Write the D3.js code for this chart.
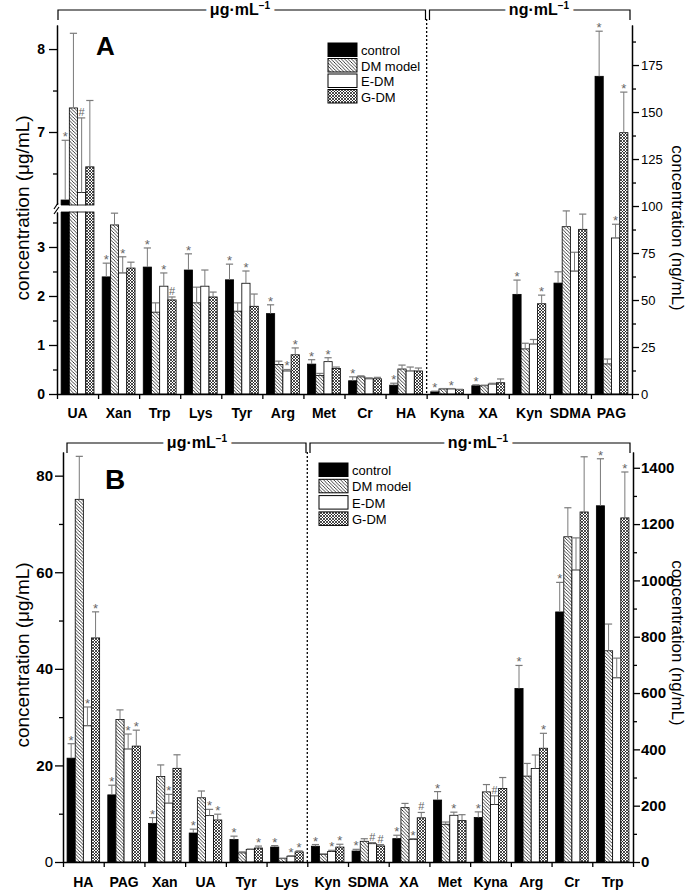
<!DOCTYPE html>
<html><head><meta charset="utf-8">
<script src="https://cdn.jsdelivr.net/npm/d3@7"></script>
<style>body{margin:0;background:#fff}svg{display:block;font-family:Arial,"Liberation Sans",sans-serif}</style>
</head><body><svg id="c" width="697" height="893"></svg>
<script>
const seriesNames = ["control","DM model","E-DM","G-DM"];

// ---------- Panel A ----------
const catsA = ["UA","Xan","Trp","Lys","Tyr","Arg","Met","Cr","HA","Kyna","XA","Kyn","SDMA","PAG"];
const controlA = [6.18, 2.39, 2.59, 2.53, 2.33, 1.64, 0.61, 0.27, 0.18, 1.2, 4.4, 53, 59, 169];
const controlSdA = [0.72, 0.28, 0.39, 0.33, 0.32, 0.18, 0.09, 0.08, 0.04, 0.3, 0.5, 7.6, 6, 24];
const dmA = [7.29, 3.45, 1.67, 1.86, 1.69, 0.60, 0.38, 0.35, 0.51, 2.7, 4.4, 24, 89, 16];
const dmSdA = [0.9, 0.24, 0.19, 0.32, 0.17, 0.07, 0.04, 0.02, 0.08, 0.2, 0.3, 3, 8.4, 2.6];
const edmA = [6.27, 2.47, 2.2, 2.2, 2.26, 0.47, 0.66, 0.31, 0.47, 2.7, 5.3, 26.6, 65.4, 83];
const edmSdA = [0.9, 0.33, 0.27, 0.33, 0.25, 0.03, 0.08, 0.02, 0.08, 0.2, 0.4, 2.4, 10, 7.3];
const gdmA = [6.58, 2.57, 1.92, 1.98, 1.79, 0.80, 0.52, 0.31, 0.47, 2.3, 6.0, 48, 87.6, 139];
const gdmSdA = [0.8, 0.12, 0.06, 0.1, 0.25, 0.14, 0.03, 0.03, 0.06, 0.2, 2, 4.6, 8.1, 21.6];
const markCtrlA = ["*","*","*","*","*","*","*","*","*","*","*","*","","*"];
const markDmA   = ["","","","","","","","","","","","","",""];
const markEdmA  = ["#","*","*","","*","*","*","","","*","","","","*"];
const markGdmA  = ["","","#","","","*","","","","","","*","","*"];
const leftTicksA_low = [0,1,2,3], leftMinorA_low = [0.5,1.5,2.5,3.5];
const leftTicksA_up = [7,8], leftMinorA_up = [6.5,7.5];
const rightTicksA = [0,25,50,75,100,125,150,175];
const rightMinorA = [12.5,37.5,62.5,87.5,112.5,137.5,162.5,187.5];

// ---------- Panel B ----------
const catsB = ["HA","PAG","Xan","UA","Tyr","Lys","Kyn","SDMA","XA","Met","Kyna","Arg","Cr","Trp"];
const controlB = [21.5, 13.9, 8.0, 6.0, 4.65, 3.1, 56, 39, 83, 220, 158, 616, 888, 1265];
const controlSdB = [3.0, 2.0, 1.2, 0.8, 0.7, 0.3, 6, 6, 12, 30, 20, 82, 105, 167];
const dmB = [75.1, 29.5, 17.7, 13.3, 1.9, 0.7, 27, 73.6, 193, 134, 249, 305, 1155, 750];
const dmSdB = [8.9, 2.0, 2.4, 1.4, 0.2, 0.1, 2, 9, 15, 8, 26, 45, 103, 95];
const edmB = [28.2, 23.4, 12.2, 9.6, 2.6, 1.2, 37, 65, 79.5, 166, 204, 332, 1037, 654];
const edmSdB = [3.9, 3.1, 1.8, 1.3, 0.1, 0.1, 4.5, 4, 3.5, 11, 31, 48, 114, 70];
const gdmB = [46.4, 24.0, 19.4, 8.7, 2.9, 2.1, 53, 57, 157, 147, 261, 404, 1243, 1222];
const gdmSdB = [5.4, 3.3, 2.8, 1.2, 0.4, 0.2, 10, 5, 19, 21, 39, 53, 196, 163];
const markCtrlB = ["*","*","*","*","*","*","*","*","*","*","*","*","*","*"];
const markDmB   = ["","","","","","","","","","","","","",""];
const markEdmB  = ["*","*","*","*","","*","*","#","*","*","#","","",""];
const markGdmB  = ["*","*","","*","*","*","*","#","#","","","*","","*"];
const leftTicksB = [0,20,40,60,80], leftMinorB = [10,30,50,70];
const rightTicksB = [0,200,400,600,800,1000,1200,1400];
const rightMinorB = [100,300,500,700,900,1100,1300];

const svg = d3.select("#c");
const defs = svg.append("defs");
const ph = defs.append("pattern").attr("id","hatch").attr("patternUnits","userSpaceOnUse").attr("width",3.4).attr("height",3.4);
ph.append("rect").attr("width",3.4).attr("height",3.4).attr("fill","#fff");
ph.append("path").attr("d","M-1,-1L4.4,4.4M-1,2.4L1,4.4M2.4,-1L4.4,1").attr("stroke","#000").attr("stroke-width",0.75);
const pc = defs.append("pattern").attr("id","cross").attr("patternUnits","userSpaceOnUse").attr("width",3).attr("height",3);
pc.append("rect").attr("width",3).attr("height",3).attr("fill","#fff");
pc.append("path").attr("d","M0,0L3,3M3,0L0,3").attr("stroke","#000").attr("stroke-width",0.7);
const fills = ["#000","url(#hatch)","#fff","url(#cross)"];

function unitLabel(g, x, y, base) {
  const t = g.append("text").attr("x",x).attr("y",y).attr("text-anchor","middle")
    .attr("font-weight","bold").attr("font-size",16)
    .attr("stroke","#fff").attr("stroke-width",9).attr("paint-order","stroke");
  t.append("tspan").text(base);
  t.append("tspan").attr("dy",-6).attr("font-size",10).text("−1");
}

function drawPanel(P) {
  const g = svg.append("g");
  const x = d3.scaleBand().domain(P.cats).range([P.x0, P.x1]).paddingInner(0.2).paddingOuter(0.1);
  const xs = d3.scaleBand().domain(seriesNames).range([0, x.bandwidth()]);
  const segL = P.leftSegs.map(s => ({d0:s.domain[0], d1:s.domain[1],
    sc:d3.scaleLinear().domain(s.domain).range(s.range), major:s.major, minor:s.minor}));
  const segR = [{d0:P.rightDomain[0], d1:P.rightDomain[1],
    sc:d3.scaleLinear().domain(P.rightDomain).range([P.yBase, P.yTop])}];
  const yOf = (v, segs) => {
    for (const s of segs) { if (v <= s.d1) return s.sc(Math.max(v, s.d0)); }
    const l = segs[segs.length-1]; return l.sc(v);
  };
  const divX = P.x0 + P.nLeft * x.step();

  // brackets
  const by = P.bracketY;
  g.append("path").attr("d",`M${P.bl[0]},${by+10}V${by}H${P.bl[1]}V${by+10}`).attr("fill","none").attr("stroke","#000").attr("stroke-width",1.2);
  g.append("path").attr("d",`M${P.br[0]},${by+10}V${by}H${P.br[1]}V${by+10}`).attr("fill","none").attr("stroke","#000").attr("stroke-width",1.2);
  unitLabel(g, P.ul[0], by+5, "μg·mL");
  unitLabel(g, P.ul[1], by+5, "ng·mL");
  // divider
  g.append("line").attr("x1",divX).attr("x2",divX).attr("y1",by+9).attr("y2",P.yBase)
    .attr("stroke","#000").attr("stroke-width",1.3).attr("stroke-dasharray","2,2");

  // bars
  P.cats.forEach((c, i) => {
    const segs = i < P.nLeft ? segL : segR;
    P.values.forEach((arr, s) => {
      const v = arr[i], sd = P.sds[s][i], mk = P.marks[s][i];
      const bx = x(c) + xs(seriesNames[s]), bw = xs.bandwidth();
      segs.forEach(sg => {
        if (v > sg.d0) {
          const top = Math.min(v, sg.d1);
          g.append("rect").attr("x",bx).attr("y",sg.sc(top)).attr("width",bw)
            .attr("height",sg.sc(sg.d0)-sg.sc(top)).attr("fill",fills[s])
            .attr("stroke","#000").attr("stroke-width",0.8);
        }
      });
      const yv = yOf(v, segs), ye = yOf(v + sd, segs), cx = bx + bw/2;
      g.append("line").attr("x1",cx).attr("x2",cx).attr("y1",yv).attr("y2",ye).attr("stroke","#7a7a7a").attr("stroke-width",1);
      g.append("line").attr("x1",bx+0.5).attr("x2",bx+bw-0.5).attr("y1",ye).attr("y2",ye).attr("stroke","#7a7a7a").attr("stroke-width",1.2);
      if (mk) {
        g.append("text").attr("x",cx).attr("y", mk === "*" ? ye + 1 : ye - 2).attr("text-anchor","middle")
          .attr("font-size", mk === "*" ? 13 : 11).attr("fill","#666").text(mk);
      }
    });
  });

  // left axis segments
  segL.forEach(sg => {
    const a = g.append("g").attr("transform",`translate(${P.x0},0)`)
      .call(d3.axisLeft(sg.sc).tickValues(sg.major).tickSize(8).tickSizeOuter(0).tickPadding(P.lpad).tickFormat(d3.format("d")));
    a.attr("font-size",P.lfs).attr("font-weight","bold").attr("font-family","Arial, 'Liberation Sans', sans-serif");
    a.selectAll("line").attr("stroke-width",1.3);
    a.select(".domain").attr("stroke-width",1.5);
    if (P.zeroRegular) a.selectAll(".tick text").filter(d => d === 0).attr("font-weight","normal");
    g.append("g").attr("transform",`translate(${P.x0},0)`)
      .call(d3.axisLeft(sg.sc).tickValues(sg.minor).tickSize(4).tickSizeOuter(0).tickFormat(""))
      .selectAll("line").attr("stroke-width",1.3);
  });
  // break marks
  if (segL.length > 1) {
    const yb1 = segL[0].sc.range()[1], yb2 = segL[1].sc.range()[0];
    g.append("rect").attr("x",P.x0-4).attr("y",yb2).attr("width",8).attr("height",yb1-yb2).attr("fill","#fff");
    g.append("path").attr("d",`M${P.x0-3},${yb1+2}L${P.x0+2},${yb1-5}M${P.x0-3},${yb2+4}L${P.x0+1},${yb2-2}`)
      .attr("stroke","#000").attr("stroke-width",1.2);
  }
  // right axis
  const ra = g.append("g").attr("transform",`translate(${P.x1},0)`)
    .call(d3.axisRight(segR[0].sc).tickValues(P.rightMajor).tickSize(7).tickSizeOuter(0).tickPadding(P.rpad).tickFormat(d3.format("d")));
  ra.attr("font-size",P.rfs).attr("font-weight",P.rbold ? "bold" : "normal").attr("font-family","Arial, 'Liberation Sans', sans-serif");
  ra.selectAll("line").attr("stroke-width",1.3);
  ra.select(".domain").attr("stroke-width",1.5);
  g.append("g").attr("transform",`translate(${P.x1},0)`)
    .call(d3.axisRight(segR[0].sc).tickValues(P.rightMinor).tickSize(4).tickSizeOuter(0).tickFormat(""))
    .selectAll("line").attr("stroke-width",1.3);

  // x axis
  const xb = d3.scaleLinear().domain([0, P.cats.length]).range([P.x0, P.x1]);
  const xa = g.append("g").attr("transform",`translate(0,${P.yBase})`)
    .call(d3.axisBottom(xb).tickValues(d3.range(0, P.cats.length + 1)).tickSize(5).tickSizeOuter(0).tickFormat(""));
  xa.selectAll("line").attr("stroke-width",1.3);
  xa.select(".domain").attr("stroke-width",1.5);
  const xl = g.append("g").attr("transform",`translate(0,${P.yBase})`)
    .call(d3.axisBottom(x).tickSize(0).tickPadding(P.xpad));
  xl.select(".domain").remove();
  xl.attr("font-size",14).attr("font-weight","bold").attr("font-family","Arial, 'Liberation Sans', sans-serif");

  // titles
  g.append("text").attr("transform",`translate(22,${P.ltY}) rotate(-90)`).attr("text-anchor","middle")
    .attr("dy","0.35em").attr("font-size",P.ltfs).text("concentration (μg/mL)");
  g.append("text").attr("transform",`translate(678,${P.rtY}) rotate(90)`).attr("text-anchor","middle")
    .attr("dy","0.35em").attr("font-size",17).text("concentration (ng/mL)");
  g.append("text").attr("x",P.letter[0]).attr("y",P.letter[1]).attr("font-size",P.letter[2]).attr("font-weight","bold").text(P.name);

  // legend
  seriesNames.forEach((n, s) => {
    const ly = P.leg[1] + s * P.leg[2];
    g.append("rect").attr("x",P.leg[0]).attr("y",ly).attr("width",29).attr("height",13.5)
      .attr("fill",fills[s]).attr("stroke","#000").attr("stroke-width",1);
    g.append("text").attr("x",P.leg[0]+33).attr("y",ly+12).attr("font-size",13).text(n);
  });
}

drawPanel({
  name:"A", cats:catsA, nLeft:9, x0:57, x1:632, yBase:394, yTop:25,
  values:[controlA, dmA, edmA, gdmA], sds:[controlSdA, dmSdA, edmSdA, gdmSdA],
  marks:[markCtrlA, markDmA, markEdmA, markGdmA],
  leftSegs:[{domain:[0,3.714], range:[394,212], major:leftTicksA_low, minor:leftMinorA_low},
            {domain:[6.12,8.29], range:[205,25], major:leftTicksA_up, minor:leftMinorA_up}],
  rightDomain:[0,196.3], rightMajor:rightTicksA, rightMinor:rightMinorA,
  lpad:4, lfs:14, rpad:2, rfs:13, rbold:false, zeroRegular:false, xpad:14,
  bracketY:10, bl:[58,425.5], br:[429.5,630], ul:[240,539],
  ltY:208, ltfs:19, rtY:228, letter:[96,55,26], leg:[328,43,15.5]
});
drawPanel({
  name:"B", cats:catsB, nLeft:6, x0:63, x1:633, yBase:862, yTop:452,
  values:[controlB, dmB, edmB, gdmB], sds:[controlSdB, dmSdB, edmSdB, gdmSdB],
  marks:[markCtrlB, markDmB, markEdmB, markGdmB],
  leftSegs:[{domain:[0,84.9], range:[862,452], major:leftTicksB, minor:leftMinorB}],
  rightDomain:[0,1456], rightMajor:rightTicksB, rightMinor:rightMinorB,
  lpad:2, lfs:15, rpad:1, rfs:15, rbold:true, zeroRegular:true, xpad:15,
  bracketY:443, bl:[67,306], br:[310,630], ul:[197,478],
  ltY:655, ltfs:19, rtY:643, letter:[105,489,28], leg:[319,463,16.3]
});
</script></body></html>
